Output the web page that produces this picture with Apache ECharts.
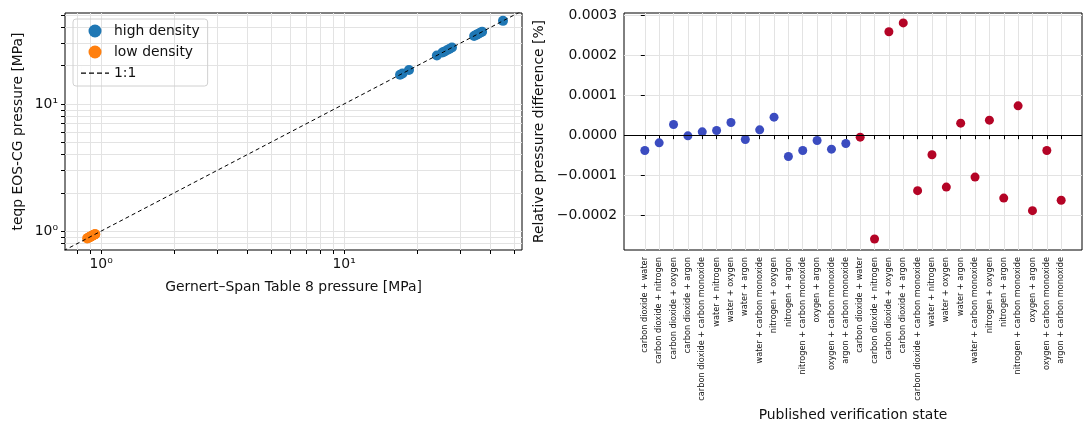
<!DOCTYPE html>
<html>
<head>
    <meta charset="utf-8" />
    <title>pressure check</title>
    <script type="text/javascript" src="https://cdn.jsdelivr.net/npm/echarts@6/dist/echarts.min.js"></script>
    <style>
        body { margin: 0; background: #fff; }
        #main { width: 1091px; height: 431px; }
    </style>
</head>
<body>
<div id="main"></div>
<script type="text/javascript">
    // left panel: Gernert-Span pressure vs teqp pressure [MPa]
    var highX = [17.0, 17.4, 18.5, 24.1, 25.4, 25.8, 26.5, 27.1, 27.8, 34.3, 35.0, 35.6, 36.3, 37.0, 45.1];
    var highY = [17.0, 17.4, 18.5, 24.1, 25.4, 25.8, 26.5, 27.1, 27.8, 34.3, 35.0, 35.6, 36.3, 37.0, 45.1];
    var lowX = [0.876, 0.884, 0.889, 0.895, 0.901, 0.905, 0.911, 0.917, 0.922, 0.926, 0.931, 0.936, 0.940, 0.943, 0.946];
    var lowY = [0.876, 0.884, 0.889, 0.895, 0.901, 0.905, 0.911, 0.917, 0.922, 0.926, 0.931, 0.936, 0.940, 0.943, 0.946];
    var oneToOne = [0.7, 55];
    var logTicks = [0.8, 0.9, 1, 2, 3, 4, 5, 6, 7, 8, 9, 10, 20, 30, 40, 50];
    var logLabels = [1, 10];

    // right panel: relative pressure difference [%] per verification state
    var pairs = [
        'carbon dioxide + water', 'carbon dioxide + nitrogen', 'carbon dioxide + oxygen',
        'carbon dioxide + argon', 'carbon dioxide + carbon monoxide', 'water + nitrogen',
        'water + oxygen', 'water + argon', 'water + carbon monoxide', 'nitrogen + oxygen',
        'nitrogen + argon', 'nitrogen + carbon monoxide', 'oxygen + argon',
        'oxygen + carbon monoxide', 'argon + carbon monoxide'
    ];
    var states = pairs.concat(pairs);
    var highDiff = [-0.0000383, -0.0000192, 0.0000267, -0.0000017, 0.0000083, 0.0000117, 0.0000317,
        -0.0000108, 0.0000133, 0.000045, -0.0000533, -0.0000383, -0.0000133, -0.000035, -0.0000208];
    var lowDiff = [-0.000005, -0.00026, 0.000259, 0.000281, -0.000139, -0.000049, -0.00013, 0.00003,
        -0.000105, 0.0000375, -0.0001575, 0.0000733, -0.000189, -0.0000383, -0.000163];
    var diffTicks = [-0.0002, -0.0001, 0, 0.0001, 0.0002, 0.0003];

    var font = 'DejaVu Sans';
    var gridColor = '#e3e3e3';
    var fs = 13.9;
    // dashed legend icon (thin invisible bar keeps the icon box 28x13)
    var dashIcon = 'path://M0,0h0.01v13h-0.01z M0,6h5v1.3h-5z M8,6h5v1.3h-5z M16,6h5v1.3h-5z M24,6h4v1.3h-4z';

    function pts(xs, ys) {
        var out = [];
        for (var i = 0; i < xs.length; i++) out.push([xs[i], ys[i]]);
        return out;
    }
    function idx(vals, start) {
        var out = [];
        for (var i = 0; i < vals.length; i++) out.push([start + i, vals[i]]);
        return out;
    }
    var stateIdx = [];
    for (var i = 0; i < states.length; i++) stateIdx.push(i);

    function logFmt(v) {
        return Math.round(Math.log10(v)) === 0 ? '10\u2070' : '10\u00b9';
    }

    var myChart = echarts.init(document.getElementById('main'));
    var option = {
        animation: false,
        textStyle: { fontFamily: font },
        grid: [
            { left: 65, top: 13, width: 457, height: 237, show: true, borderColor: '#000', borderWidth: 1 },
            { left: 624, top: 13, width: 458, height: 237, show: true, borderColor: '#000', borderWidth: 1 }
        ],
        legend: {
            left: 73, top: 19,
            orient: 'vertical',
            data: ['high density', 'low density', { name: '1:1', icon: dashIcon }],
            borderColor: '#d0d0d0', borderWidth: 1, borderRadius: 3,
            padding: [5, 8, 6, 8],
            itemGap: 7, itemWidth: 28, itemHeight: 13,
            textStyle: { fontFamily: font, fontSize: fs, color: '#111' }
        },
        xAxis: [
            {
                gridIndex: 0, type: 'log', min: 0.71, max: 54,
                name: 'Gernert\u2013Span Table 8 pressure [MPa]', nameLocation: 'middle', nameGap: 30,
                nameTextStyle: { fontFamily: font, fontSize: fs, color: '#111' },
                axisLine: { show: false },
                axisTick: { show: true, length: 4, customValues: logTicks, lineStyle: { color: '#000' } },
                axisLabel: { customValues: logLabels, formatter: logFmt, fontFamily: font, fontSize: fs, color: '#111', margin: 7 },
                splitLine: { show: true, lineStyle: { color: gridColor } }
            },
            {
                gridIndex: 1, type: 'value', min: -1.45, max: 30.45,
                name: 'Published verification state', nameLocation: 'middle', nameGap: 155,
                nameTextStyle: { fontFamily: font, fontSize: fs, color: '#111' },
                axisLine: { show: false },
                axisTick: { show: true, length: 4, customValues: stateIdx, lineStyle: { color: '#000' } },
                axisLabel: {
                    customValues: stateIdx, rotate: 90, fontFamily: font, fontSize: 8.2, color: '#111', margin: 7,
                    formatter: function (v) { return states[v]; }
                },
                splitLine: { show: true, lineStyle: { color: gridColor } }
            }
        ],
        yAxis: [
            {
                gridIndex: 0, type: 'log', min: 0.71, max: 52,
                name: 'teqp EOS-CG pressure [MPa]', nameLocation: 'middle', nameGap: 40,
                nameTextStyle: { fontFamily: font, fontSize: fs, color: '#111' },
                axisLine: { show: false },
                axisTick: { show: true, length: 4, customValues: logTicks, lineStyle: { color: '#000' } },
                axisLabel: { customValues: logLabels, formatter: logFmt, fontFamily: font, fontSize: fs, color: '#111', margin: 7 },
                splitLine: { show: true, lineStyle: { color: gridColor } }
            },
            {
                gridIndex: 1, type: 'value', min: -0.0002875, max: 0.0003058,
                name: 'Relative pressure difference [%]', nameLocation: 'middle', nameGap: 78,
                nameTextStyle: { fontFamily: font, fontSize: fs, color: '#111' },
                axisLine: { show: false },
                axisTick: { show: true, length: 4, customValues: diffTicks, lineStyle: { color: '#000' } },
                axisLabel: {
                    customValues: diffTicks, fontFamily: font, fontSize: fs, color: '#111', margin: 7,
                    formatter: function (v) { return (v < 0 ? '\u2212' : '') + Math.abs(v).toFixed(4); }
                },
                splitLine: { show: true, lineStyle: { color: gridColor } }
            }
        ],
        series: [
            {
                name: 'high density', type: 'scatter', xAxisIndex: 0, yAxisIndex: 0,
                symbolSize: 10, itemStyle: { color: '#1f77b4', opacity: 1 },
                data: pts(highX, highY)
            },
            {
                name: 'low density', type: 'scatter', xAxisIndex: 0, yAxisIndex: 0,
                symbolSize: 10, itemStyle: { color: '#ff7f0e', opacity: 1 },
                data: pts(lowX, lowY)
            },
            {
                name: '1:1', type: 'line', xAxisIndex: 0, yAxisIndex: 0,
                symbol: 'none', clip: true,
                lineStyle: { color: '#000', width: 1, type: [4, 3] },
                itemStyle: { color: '#000' },
                data: pts(oneToOne, oneToOne), z: 3
            },
            {
                name: 'diff high', type: 'scatter', xAxisIndex: 1, yAxisIndex: 1,
                symbolSize: 9, itemStyle: { color: '#3b4cc0', opacity: 1 },
                data: idx(highDiff, 0),
                markLine: {
                    silent: true, symbol: 'none', label: { show: false },
                    lineStyle: { color: '#000', type: 'solid', width: 1.2 },
                    data: [{ yAxis: 0 }]
                }
            },
            {
                name: 'diff low', type: 'scatter', xAxisIndex: 1, yAxisIndex: 1,
                symbolSize: 9, itemStyle: { color: '#b40426', opacity: 1 },
                data: idx(lowDiff, 15)
            }
        ]
    };
    myChart.setOption(option);
</script>
</body>
</html>
